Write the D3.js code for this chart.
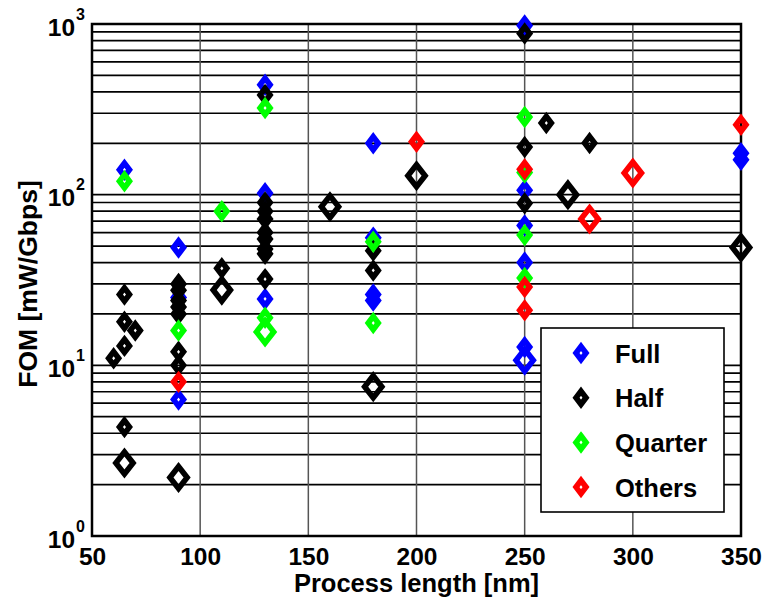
<!DOCTYPE html>
<html><head><meta charset="utf-8">
<script src="https://cdn.jsdelivr.net/npm/d3@7"></script>
<style>
body{margin:0;background:#fff}
svg{display:block}
text{font-family:"Liberation Sans",Arial,sans-serif;font-weight:bold;fill:#000}
</style>
</head><body>
<svg id="chart" width="765" height="601"></svg>
<script>
// ---- data ----
const xTicks = [50, 100, 150, 200, 250, 300, 350];
const yTicks = [1, 10, 100, 1000];
const yTickExponents = ["0", "1", "2", "3"];
const categories = ["Full", "Half", "Quarter", "Others"];
const categoryColors = ["#0000ff", "#000000", "#00ff00", "#ff0000"];

// Full (small / large markers)
const fullX = [65, 90, 90, 90, 130, 130, 130, 180, 180, 180, 180, 250, 250, 250, 250, 250, 350, 350];
const fullY = [140, 49, 25, 6.3, 440, 102, 24.5, 200, 56, 26, 24, 980, 106, 66, 40, 12.8, 175, 160];
const fullBigX = [250];
const fullBigY = [10.7];

// Half
const halfX = [60, 65, 65, 65, 65, 70, 90, 90, 90, 90, 90, 90, 90, 110, 130, 130, 130, 130, 130, 130, 130, 130, 130, 180, 180, 250, 250, 250, 260, 280];
const halfY = [11, 26, 18, 13, 4.35, 16, 30, 27.5, 24, 22, 20, 12, 10, 37, 384, 90, 80, 72, 60, 55, 48, 45, 32, 47, 36, 880, 190, 89, 263, 201];
const halfBigX = [65, 90, 110, 160, 180, 200, 270, 350];
const halfBigY = [2.68, 2.2, 27.6, 85, 7.5, 129, 100, 49];

// Quarter
const quarterX = [65, 90, 110, 130, 130, 180, 180, 250, 250, 250, 250];
const quarterY = [120, 16, 80, 322, 19, 53, 17.7, 285, 135, 58, 32.5];
const quarterBigX = [130];
const quarterBigY = [15.7];

// Others
const othersX = [90, 200, 250, 250, 250, 350];
const othersY = [8, 204, 141, 28.8, 21, 257];
const othersBigX = [280, 300];
const othersBigY = [72, 134];

// ---- build ----
const series = [
  {name: "Full", xs: fullX, ys: fullY, bx: fullBigX, by: fullBigY},
  {name: "Half", xs: halfX, ys: halfY, bx: halfBigX, by: halfBigY},
  {name: "Quarter", xs: quarterX, ys: quarterY, bx: quarterBigX, by: quarterBigY},
  {name: "Others", xs: othersX, ys: othersY, bx: othersBigX, by: othersBigY}
];

const svg = d3.select("#chart");
const L = 92, R = 741, T = 24, B = 536;
const x = d3.scaleLinear().domain([50, 350]).range([L, R]);
const y = d3.scaleLog().domain([1, 1000]).range([B, T]);
const color = d3.scaleOrdinal().domain(categories).range(categoryColors);

// horizontal grid (major + minor)
const hVals = [];
[1, 10, 100].forEach(d => { for (let k = 1; k <= 9; k++) hVals.push(d * k); });
hVals.push(1000);
svg.append("g").selectAll("line").data(hVals).join("line")
  .attr("x1", L).attr("x2", R)
  .attr("y1", d => y(d)).attr("y2", d => y(d))
  .attr("stroke", "#000").attr("stroke-width", 1.7);

// vertical grid
svg.append("g").selectAll("line").data(xTicks.slice(1, -1)).join("line")
  .attr("x1", d => x(d)).attr("x2", d => x(d))
  .attr("y1", T).attr("y2", B)
  .attr("stroke", "#555").attr("stroke-width", 1.5);

// axes
const xAxis = svg.append("g").attr("transform", `translate(0,${B})`)
  .call(d3.axisBottom(x).tickValues(xTicks).tickSize(0).tickPadding(12).tickFormat(d3.format("d")));
xAxis.select(".domain").remove();
xAxis.selectAll("text").attr("font-size", 24.5).attr("dy", "0.71em")
  .style("font-family", "'Liberation Sans',Arial,sans-serif").style("font-weight", "bold").attr("fill", "#000");

const yAxis = svg.append("g").attr("transform", `translate(${L},0)`)
  .call(d3.axisLeft(y).tickValues(yTicks).tickSize(0).tickFormat(() => ""));
yAxis.select(".domain").remove();
yAxis.selectAll(".tick text").remove();
yAxis.selectAll(".tick").each(function(d, i) {
  const t = d3.select(this).append("text")
    .attr("x", -7).attr("y", 11).attr("text-anchor", "end")
    .attr("font-size", 24.5);
  t.append("tspan").text("10");
  t.append("tspan").attr("font-size", 16).attr("dy", -16).attr("dx", 1).text(yTickExponents[i]);
});

// box
svg.append("rect").attr("x", L).attr("y", T).attr("width", R - L).attr("height", B - T)
  .attr("fill", "none").attr("stroke", "#000").attr("stroke-width", 2.5);

// axis labels
svg.append("text").attr("x", (L + R) / 2).attr("y", 592).attr("text-anchor", "middle")
  .attr("font-size", 25.5).text("Process length [nm]");
svg.append("text").attr("transform", `translate(37,${(T + B) / 2 + 4}) rotate(-90)`)
  .attr("text-anchor", "middle").attr("font-size", 26.5).text("FOM [mW/Gbps]");

// markers
function diamond(a, b) { return `M0,${-b}L${a},0L0,${b}L${-a},0Z`; }
const smallPath = diamond(5, 6.6), bigPath = diamond(8.6, 11);
const marks = svg.append("g");
series.forEach(s => {
  const pts = s.xs.map((v, i) => ({x: v, y: s.ys[i], big: false}))
    .concat(s.bx.map((v, i) => ({x: v, y: s.by[i], big: true})));
  marks.append("g").selectAll("path").data(pts).join("path")
    .attr("d", d => d.big ? bigPath : smallPath)
    .attr("transform", d => `translate(${x(d.x)},${y(d.y)})`)
    .attr("fill", "none").attr("stroke", color(s.name))
    .attr("stroke-width", 5.6).attr("stroke-linejoin", "miter").attr("stroke-miterlimit", 10);
});

// legend
const lg = svg.append("g");
lg.append("rect").attr("x", 541).attr("y", 328).attr("width", 183).attr("height", 184)
  .attr("fill", "#fff").attr("stroke", "#000").attr("stroke-width", 1.6);
categories.forEach((c, i) => {
  const cy = 353 + i * 44.7;
  lg.append("path").attr("d", smallPath).attr("transform", `translate(581,${cy})`)
    .attr("fill", "none").attr("stroke", color(c)).attr("stroke-width", 5.6).attr("stroke-linejoin", "miter");
  lg.append("text").attr("x", 615).attr("y", cy + 9.5).attr("font-size", 25.5).text(c);
});
</script>
</body></html>
